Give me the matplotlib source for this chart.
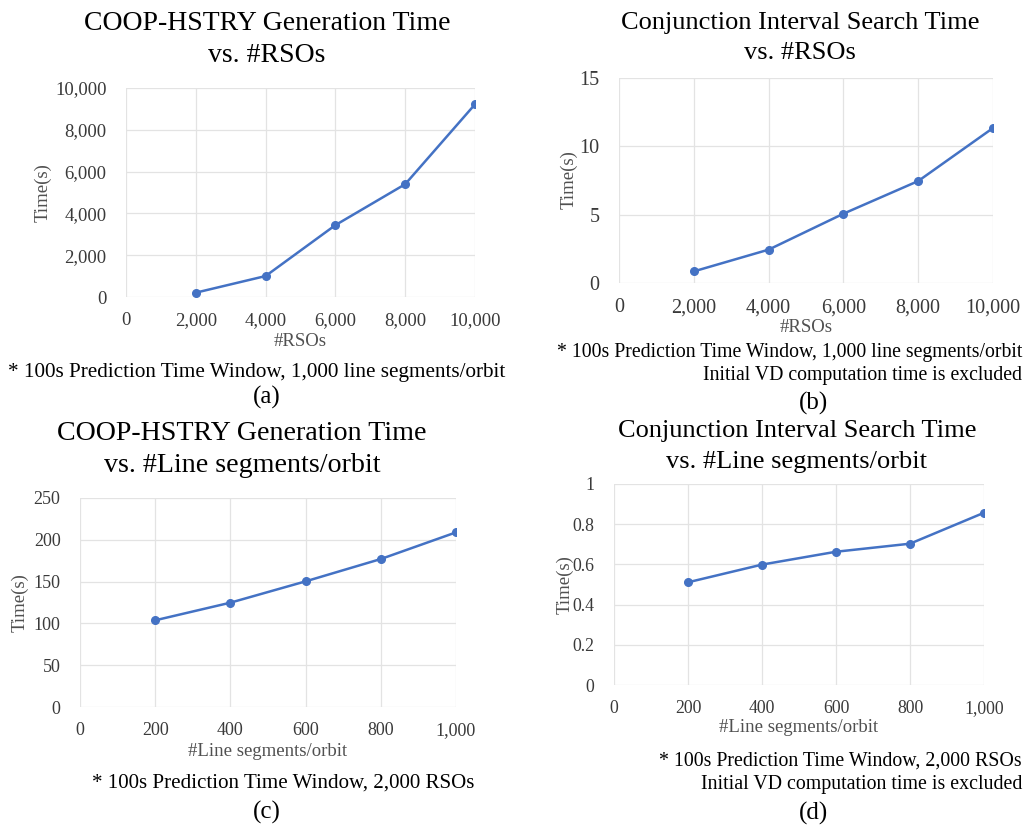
import matplotlib
matplotlib.use("Agg")
import matplotlib.pyplot as plt
from matplotlib.ticker import FuncFormatter, MultipleLocator

plt.rcParams['font.family'] = ['Liberation Serif', 'DejaVu Serif']

# ---- data ----
rsos = [2000, 4000, 6000, 8000, 10000]
coop_vs_rsos = [207, 1003, 3439, 5398, 9220]
cis_vs_rsos = [0.85, 2.44, 5.07, 7.46, 11.34]
segments = [200, 400, 600, 800, 1000]
coop_vs_segments = [103.7, 124.8, 150.3, 177.0, 208.9]
cis_vs_segments = [0.511, 0.599, 0.663, 0.703, 0.857]

W, H = 1025, 825
fig = plt.figure(figsize=(W / 100, H / 100), dpi=100)
fig.patch.set_facecolor('white')

LINE = '#4472C4'
GRID = '#E3E3E3'
TICKC = '#3A3A3A'
LABC = '#505050'


def ax_at(l, t, r, b):
    return fig.add_axes([l / W, 1 - b / H, (r - l) / W, (b - t) / H])


def txt(x, y, s, **kw):
    kw.setdefault('va', 'center')
    kw.setdefault('ha', 'center')
    fig.text(x / W, 1 - y / H, s, **kw)


def style(ax, xs, ys, xmax, xstep, ymax, ystep, yfmt, tsize):
    ax.plot(xs, ys, color=LINE, lw=1.8, marker='o', ms=5.5, zorder=3)
    ax.set_xlim(0, xmax)
    ax.set_ylim(0, ymax)
    ax.xaxis.set_major_locator(MultipleLocator(xstep))
    ax.yaxis.set_major_locator(MultipleLocator(ystep))
    ax.xaxis.set_major_formatter(FuncFormatter(lambda v, p: f"{v:,.0f}"))
    ax.yaxis.set_major_formatter(FuncFormatter(yfmt))
    ax.grid(True, color=GRID, lw=0.9)
    ax.set_axisbelow(True)
    for s in ax.spines.values():
        s.set_visible(False)
    ax.tick_params(length=0, labelsize=tsize, colors=TICKC)
    ax.tick_params(axis='y', pad=14)
    ax.tick_params(axis='x', pad=11)


intfmt = lambda v, p: f"{v:,.0f}"
gfmt = lambda v, p: f"{v:g}"

# (a)
ax = ax_at(126, 88, 475, 297)
style(ax, rsos, coop_vs_rsos, 10000, 2000, 10000, 2000, intfmt, 13.5)
txt(267, 23, "COOP-HSTRY Generation Time", fontsize=20)
txt(267, 55, "vs. #RSOs", fontsize=20)
txt(43, 193, "Time(s)", rotation=90, fontsize=13.5, color=LABC)
txt(300, 342, "#RSOs", fontsize=13.5, color=LABC)
txt(257, 373, "* 100s Prediction Time Window, 1,000 line segments/orbit", fontsize=15.2)
txt(267, 397, "(a)", fontsize=18)

# (b)
ax = ax_at(619, 78, 993, 283)
style(ax, rsos, cis_vs_rsos, 10000, 2000, 15, 5, intfmt, 14.5)
txt(800, 23, "Conjunction Interval Search Time", fontsize=19)
txt(800, 53, "vs. #RSOs", fontsize=19)
txt(569, 180, "Time(s)", rotation=90, fontsize=13.5, color=LABC)
txt(806, 327, "#RSOs", fontsize=13.5, color=LABC)
txt(1022, 352, "* 100s Prediction Time Window, 1,000 line segments/orbit", fontsize=14.2, ha='right')
txt(1022, 375, "Initial VD computation time is excluded", fontsize=14.2, ha='right')
txt(814, 403, "(b)", fontsize=18)

# (c)
ax = ax_at(80, 498, 456, 707)
style(ax, segments, coop_vs_segments, 1000, 200, 250, 50, intfmt, 13)
txt(242, 433, "COOP-HSTRY Generation Time", fontsize=20.2)
txt(242, 465, "vs. #Line segments/orbit", fontsize=20.2)
txt(20, 603, "Time(s)", rotation=90, fontsize=13.5, color=LABC)
txt(268, 752, "#Line segments/orbit", fontsize=13.5, color=LABC)
txt(283, 783, "* 100s Prediction Time Window, 2,000 RSOs", fontsize=15.1)
txt(267, 812, "(c)", fontsize=18)

# (d)
ax = ax_at(614, 484, 984, 685)
style(ax, segments, cis_vs_segments, 1000, 200, 1, 0.2, gfmt, 12.8)
txt(797, 431, "Conjunction Interval Search Time", fontsize=19)
txt(797, 462, "vs. #Line segments/orbit", fontsize=19)
txt(565, 585, "Time(s)", rotation=90, fontsize=13.5, color=LABC)
txt(799, 728, "#Line segments/orbit", fontsize=13.5, color=LABC)
txt(1022, 761, "* 100s Prediction Time Window, 2,000 RSOs", fontsize=14.3, ha='right')
txt(1022, 785, "Initial VD computation time is excluded", fontsize=14.3, ha='right')
txt(814, 813, "(d)", fontsize=18)

fig.savefig("out.png", dpi=100, facecolor='white')
